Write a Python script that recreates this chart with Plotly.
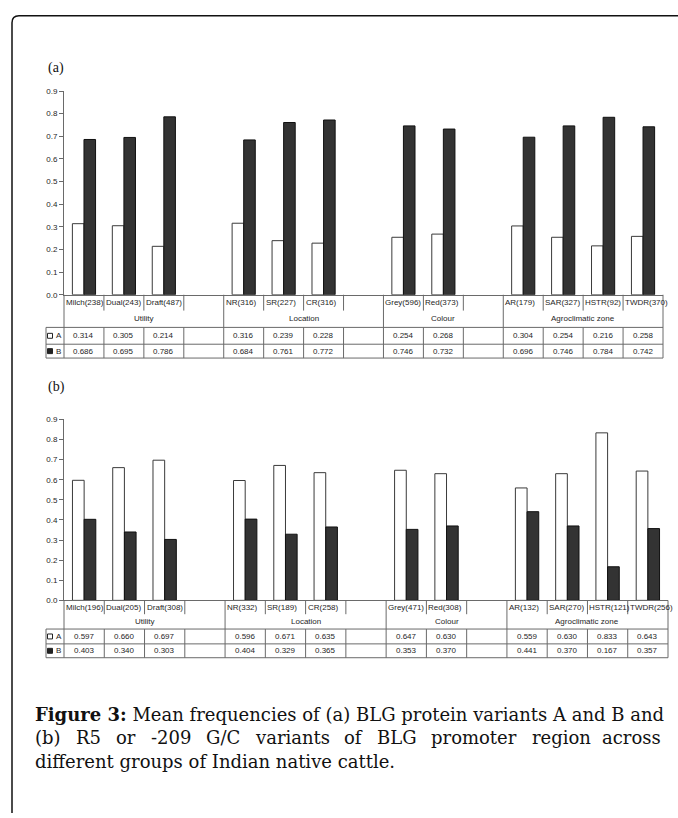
import plotly.graph_objects as go

W, H = 678, 818

# ---------------- data ----------------
groups = ["Utility", "Location", "Colour", "Agroclimatic zone"]
group_slots = [4, 4, 3, 4]          # columns per group (incl. blank spacer columns)

cats_a = ["Milch(238)", "Dual(243)", "Draft(487)", "", "NR(316)", "SR(227)", "CR(316)", "",
          "Grey(596)", "Red(373)", "", "AR(179)", "SAR(327)", "HSTR(92)", "TWDR(370)"]
a_A = [0.314, 0.305, 0.214, None, 0.316, 0.239, 0.228, None, 0.254, 0.268, None, 0.304, 0.254, 0.216, 0.258]
a_B = [0.686, 0.695, 0.786, None, 0.684, 0.761, 0.772, None, 0.746, 0.732, None, 0.696, 0.746, 0.784, 0.742]

cats_b = ["Milch(196)", "Dual(205)", "Draft(308)", "", "NR(332)", "SR(189)", "CR(258)", "",
          "Grey(471)", "Red(308)", "", "AR(132)", "SAR(270)", "HSTR(121)", "TWDR(256)"]
b_A = [0.597, 0.660, 0.697, None, 0.596, 0.671, 0.635, None, 0.647, 0.630, None, 0.559, 0.630, 0.833, 0.643]
b_B = [0.403, 0.340, 0.303, None, 0.404, 0.329, 0.365, None, 0.353, 0.370, None, 0.441, 0.370, 0.167, 0.357]

series_names = ["A", "B"]
y_ticks = [0.0, 0.1, 0.2, 0.3, 0.4, 0.5, 0.6, 0.7, 0.8, 0.9]

caption_bold = "Figure 3:"
caption_line1 = "Mean frequencies of (a) BLG protein variants A and B and"
caption_line2 = "(b) R5 or -209 G/C variants of BLG promoter region across"
caption_line3 = "different groups of Indian native cattle."

# ---------------- helpers ----------------
def px(x):
    return x / W


def py(y):
    return 1 - y / H


TEXT = "#262626"
LINE = "#6a6a6a"
SANS = "Liberation Sans, Arial, sans-serif"
SERIF = "DejaVu Serif, Liberation Serif, serif"
FS = 8

panels = [
    dict(cats=cats_a, A=a_A, B=a_B, xa="x", ya="y", top=88, bottom=294, left=64, right=663,
         r1=310, r2=327, r3=344, r4=358, label="(a)", label_y=65),
    dict(cats=cats_b, A=b_A, B=b_B, xa="x2", ya="y2", top=420, bottom=603, left=64, right=668,
         r1=617, r2=632, r3=647, r4=661, label="(b)", label_y=387),
]

fig = go.Figure()
shapes = []
annos = []


def hline(x0, x1, y, color=LINE, w=1):
    shapes.append(dict(type="line", xref="paper", yref="paper", x0=px(x0), x1=px(x1),
                       y0=py(y), y1=py(y), line=dict(color=color, width=w)))


def vline(x, y0, y1, color=LINE, w=1):
    shapes.append(dict(type="line", xref="paper", yref="paper", x0=px(x), x1=px(x),
                       y0=py(y0), y1=py(y1), line=dict(color=color, width=w)))


gb = [0]
for s in group_slots:
    gb.append(gb[-1] + s)

for k, p in enumerate(panels):
    n = len(p["cats"])
    xs = list(range(n))
    fig.add_trace(go.Bar(x=xs, y=p["A"], name=series_names[0], xaxis=p["xa"], yaxis=p["ya"],
                         marker=dict(color="white", line=dict(color="#3a3a3a", width=1)),
                         showlegend=False))
    fig.add_trace(go.Bar(x=xs, y=p["B"], name=series_names[1], xaxis=p["xa"], yaxis=p["ya"],
                         marker=dict(color="#333333", line=dict(color="#111111", width=1)),
                         showlegend=False))
    axn = "" if k == 0 else str(k + 1)
    fig.layout["xaxis" + axn] = dict(
        domain=[px(p["left"]), px(p["right"])], range=[-0.5, n - 0.5],
        showticklabels=False, ticks="", showgrid=False, zeroline=False,
        showline=True, linecolor=LINE, linewidth=1, anchor=p["ya"], fixedrange=True)
    fig.layout["yaxis" + axn] = dict(
        domain=[py(p["bottom"]), py(p["top"])], range=[0, 0.9],
        tickvals=y_ticks, tickformat=".1f", ticks="outside", ticklen=4, tickcolor=LINE,
        tickfont=dict(family=SANS, size=FS, color=TEXT),
        showgrid=False, zeroline=False, showline=True, linecolor=LINE, linewidth=1,
        anchor=p["xa"], fixedrange=True)

    left, right, bottom = p["left"], p["right"], p["bottom"]
    r1, r2, r3, r4 = p["r1"], p["r2"], p["r3"], p["r4"]
    slot = (right - left) / n
    tbl_left = 46

    # vertical separators
    for i in range(n + 1):
        x = left + i * slot
        if i == 0 or i == n:
            vline(x, bottom, r4)
        elif i in gb:
            vline(x, bottom, r2)
            vline(x, r2, r4)
        else:
            vline(x, bottom, r1)
            vline(x, r2, r4)
    vline(tbl_left, r2, r4)
    for y in (r2, r3, r4):
        hline(tbl_left, right, y)

    # category labels
    for i, c in enumerate(p["cats"]):
        if c:
            annos.append(dict(xref=p["xa"], yref="paper", x=i - 0.5, y=py((bottom + r1) / 2),
                              xanchor="left", yanchor="middle", xshift=0, text=c, showarrow=False,
                              font=dict(family=SANS, size=FS, color=TEXT)))
    # group labels
    for g, name in enumerate(groups):
        cx = (gb[g] + gb[g + 1]) / 2 - 0.5
        annos.append(dict(xref=p["xa"], yref="paper", x=cx, y=py((r1 + r2) / 2),
                          xanchor="center", yanchor="middle", text=name, showarrow=False,
                          font=dict(family=SANS, size=FS, color=TEXT)))
    # table values
    for row_vals, (ya0, ya1) in ((p["A"], (r2, r3)), (p["B"], (r3, r4))):
        for i, v in enumerate(row_vals):
            if v is not None:
                annos.append(dict(xref=p["xa"], yref="paper", x=i, y=py((ya0 + ya1) / 2),
                                  xanchor="center", yanchor="middle", text=f"{v:.3f}",
                                  showarrow=False, font=dict(family=SANS, size=FS, color=TEXT)))
    # legend keys in table
    for j, (ya0, ya1) in enumerate(((r2, r3), (r3, r4))):
        cy = (ya0 + ya1) / 2
        shapes.append(dict(type="rect", xref="paper", yref="paper",
                           x0=px(47.5), x1=px(52.5), y0=py(cy + 2.5), y1=py(cy - 2.5),
                           fillcolor="white" if j == 0 else "#222222",
                           line=dict(color="#222222", width=1)))
        annos.append(dict(xref="paper", yref="paper", x=px(53.5), y=py(cy), xanchor="left",
                          yanchor="middle", text=series_names[j], showarrow=False,
                          font=dict(family=SANS, size=FS, color=TEXT)))
    # panel label
    annos.append(dict(xref="paper", yref="paper", x=px(46), y=py(p["label_y"]), xanchor="left",
                      yanchor="middle", text=p["label"], showarrow=False,
                      font=dict(family="Liberation Serif, serif", size=14, color="#111")))

# ---------------- caption ----------------
CAP_SIZE = 18
cap_x0, cap_x1 = 33, 663
annos.append(dict(xref="paper", yref="paper", x=px(cap_x0), y=py(718), xanchor="left",
                  yanchor="middle", showarrow=False,
                  text=f"<b>{caption_bold}</b> {caption_line1}",
                  font=dict(family=SERIF, size=CAP_SIZE, color="#111")))

# justified second line (approximate DejaVu Serif advance widths, in em)
EM = {"(": .390, ")": .390, "b": .640, "R": .734, "5": .636, "o": .602, "r": .478, "-": .338,
      "2": .636, "0": .636, "9": .636, "G": .775, "/": .337, "C": .733, "v": .565, "a": .596,
      "i": .320, "n": .644, "t": .402, "s": .513, "f": .370, "B": .735, "L": .664, "p": .640,
      "m": .948, "e": .592, "g": .640, "c": .560}
words = caption_line2.split(" ")
wid = [sum(EM.get(ch, .6) for ch in w) * CAP_SIZE for w in words]
gap = ((cap_x1 - cap_x0) - sum(wid)) / (len(words) - 1)
xcur = cap_x0
for idx, (w, wd) in enumerate(zip(words, wid)):
    last = idx == len(words) - 1
    annos.append(dict(xref="paper", yref="paper", x=px(cap_x1 if last else xcur), y=py(742),
                      xanchor="right" if last else "left",
                      yanchor="middle", showarrow=False, text=w,
                      font=dict(family=SERIF, size=CAP_SIZE, color="#111")))
    xcur += wd + gap

annos.append(dict(xref="paper", yref="paper", x=px(cap_x0), y=py(766), xanchor="left",
                  yanchor="middle", showarrow=False, text=caption_line3,
                  font=dict(family=SERIF, size=CAP_SIZE, color="#111")))

# outer frame (rounded top-left corner)
path = (f"M {px(12)},{py(818)} L {px(12)},{py(19)} Q {px(12)},{py(12)} {px(19)},{py(12)} "
        f"L {px(678)},{py(12)}")
shapes.append(dict(type="path", xref="paper", yref="paper", path=path,
                   line=dict(color="#111", width=1.5)))

fig.update_layout(width=W, height=H, margin=dict(l=0, r=0, t=0, b=0),
                  paper_bgcolor="white", plot_bgcolor="white",
                  barmode="group", bargap=0.42, bargroupgap=0,
                  shapes=shapes, annotations=annos, showlegend=False)

fig.write_html("out.html", config={"displayModeBar": False},
               post_script="document.body.style.margin='0';document.body.style.overflow='hidden';")
